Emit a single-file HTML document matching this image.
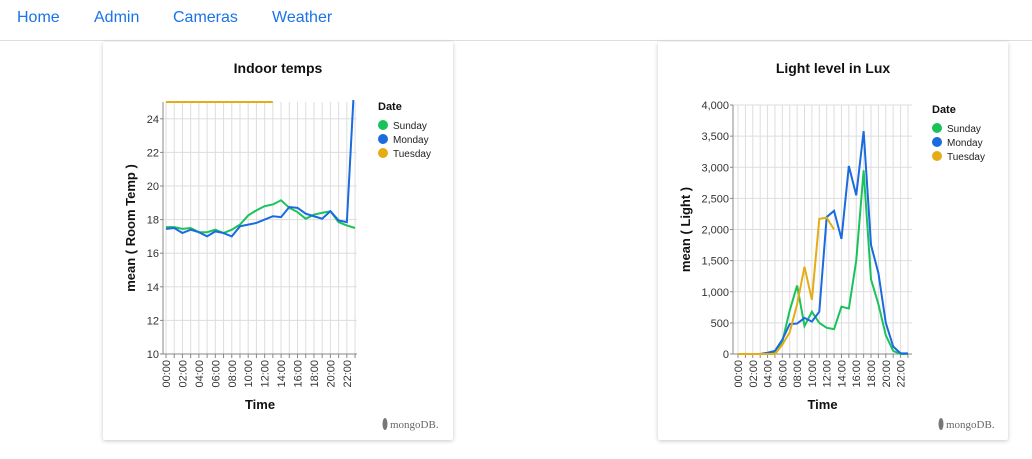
<!DOCTYPE html>
<html><head><meta charset="utf-8">
<style>
body{margin:0;width:1032px;height:459px;background:#fff;font-family:"Liberation Sans",sans-serif;overflow:hidden;position:relative}
.nav{position:absolute;left:0;top:0;width:1032px;height:40px;border-bottom:1px solid #ddd}
.nav a{position:absolute;top:9px;font-size:16px;color:#1a73e8;text-decoration:none}
.card{position:absolute;top:42px;width:350px;height:398px;background:#fff;box-shadow:0 1px 4px rgba(0,0,0,.22);border-radius:2px}
svg{position:absolute;left:0;top:0}
</style></head><body>
<div class="nav">
<a style="left:17px" href="#">Home</a>
<a style="left:94px" href="#">Admin</a>
<a style="left:173px" href="#">Cameras</a>
<a style="left:272px" href="#">Weather</a>
</div>
<div class="card" style="left:103px"></div>
<div class="card" style="left:658px"></div>
<svg id="chart" width="1032" height="459"></svg>
<script>
const hours = ["00:00","01:00","02:00","03:00","04:00","05:00","06:00","07:00","08:00","09:00","10:00","11:00","12:00","13:00","14:00","15:00","16:00","17:00","18:00","19:00","20:00","21:00","22:00","23:00"];
const tempSunday = [17.55,17.55,17.45,17.5,17.25,17.25,17.4,17.2,17.4,17.7,18.25,18.55,18.8,18.9,19.15,18.7,18.45,18.05,18.3,18.4,18.5,17.85,17.65,17.5];
const tempMonday = [17.45,17.5,17.2,17.4,17.25,17.0,17.3,17.2,17.0,17.6,17.7,17.8,18.0,18.2,18.15,18.75,18.7,18.35,18.2,18.05,18.5,17.95,17.85,27];
const tempTuesday = [25,25,25,25,25,25,25,25,25,25,25,25,25,25];
const tempTicks = [10,12,14,16,18,20,22,24];
const luxSunday = [0,0,0,0,0,20,200,700,1100,450,680,500,420,400,760,730,1500,2950,1200,800,300,50,0,0];
const luxMonday = [0,0,0,0,20,50,230,480,490,580,520,680,2200,2300,1850,3020,2550,3580,1750,1300,500,120,10,10];
const luxTuesday = [0,0,0,0,0,0,150,350,800,1400,870,2170,2190,2000];
const luxTicks = [0,500,1000,1500,2000,2500,3000,3500,4000];
const NS='http://www.w3.org/2000/svg';
const svg=document.getElementById('chart');
function mk(tag,attrs,parent,text){const e=document.createElementNS(NS,tag);for(const k in attrs)e.setAttribute(k,attrs[k]);if(text!==undefined)e.textContent=text;(parent||svg).appendChild(e);return e;}
const COLORS={Sunday:'#19c35a',Monday:'#1a6ae0',Tuesday:'#e6ac16'};
function chart(o){
  const g=mk('g',{});
  
  
  const x=i=>o.x0+i*o.step, y=v=>o.yb-(v-o.ymin)/(o.ymax-o.ymin)*(o.yb-o.yt);
  const cid='clip-'+o.name;
  const cp=mk('clipPath',{id:cid},g);mk('rect',{x:o.axX,y:o.yt-2,width:o.right-o.axX,height:o.yb-o.yt+4},cp);
  hours.forEach((h,i)=>{mk('line',{x1:x(i),x2:x(i),y1:o.yt,y2:o.yb,stroke:'#ddd','stroke-width':1},g);});
  o.ticks.forEach(t=>{mk('line',{x1:o.axX,x2:o.right,y1:y(t),y2:y(t),stroke:'#ddd'},g);
    const tl=mk('text',{x:o.axX-4,y:y(t)+4,'text-anchor':'end','font-size':11,fill:'#333'},g,o.fmt(t));
    
    
    mk('line',{x1:o.axX-3,x2:o.axX,y1:y(t),y2:y(t),stroke:'#888'},g);});
  mk('line',{x1:o.axX,x2:o.axX,y1:o.yt,y2:o.yb,stroke:'#888'},g);
  mk('line',{x1:o.axX,x2:o.right,y1:o.yb,y2:o.yb,stroke:'#888'},g);
  hours.forEach((h,i)=>{mk('line',{x1:x(i),x2:x(i),y1:o.yb,y2:o.yb+4,stroke:'#888'},g);
    if(i%2===0){const t=mk('text',{transform:`translate(${x(i)+4},${o.yb+6}) rotate(-90)`,'text-anchor':'end','font-size':11,fill:'#333'},g,h);
    
    }});
  const series={Sunday:o.sun,Monday:o.mon,Tuesday:o.tue};
  const lg=mk('g',{'clip-path':`url(#${cid})`},g);
  for(const k in series){const p=mk('polyline',{points:series[k].map((v,i)=>x(i)+','+y(v)).join(' '),fill:'none',stroke:COLORS[k],'stroke-width':2},lg);
    
    }
  const ti=mk('text',{x:o.cx,y:73,'text-anchor':'middle','font-size':14,'font-weight':'bold',fill:'#111'},g,o.title);
  
  
  const xt=mk('text',{x:(o.axX+o.right)/2,y:o.yb+55,'text-anchor':'middle','font-size':13,'font-weight':'bold',fill:'#111'},g,'Time');
  
  
  const yt=mk('text',{transform:`translate(${o.ytx},${(o.yt+o.yb)/2}) rotate(-90)`,'text-anchor':'middle','font-size':13,'font-weight':'bold',fill:'#111'},g,o.ylabel);
  
  
  const lgd=mk('g',{},g);
  
  
  mk('text',{x:o.lx,y:o.ly,'font-size':11,'font-weight':'bold',fill:'#111'},lgd,'Date');
  Object.keys(COLORS).forEach((k,i)=>{const e=mk('g',{},lgd);
    
    
    mk('circle',{cx:o.lx+5,cy:o.ly+15+i*14,r:5,fill:COLORS[k]},e);
    mk('text',{x:o.lx+15,y:o.ly+19+i*14,'font-size':10,fill:'#222'},e,k);});
  const m=mk('g',{},g);
  
  
  mk('ellipse',{cx:o.mx,cy:424,rx:2.5,ry:6,fill:'#777'},m);
  mk('text',{x:o.mx+5,y:428,'font-size':11,fill:'#666','font-family':'Liberation Serif, serif'},m,'mongoDB.');
}
chart({name:'indoor-temps-chart',title:'Indoor temps',cx:278,x0:166,step:8.22,axX:163,right:357,yt:102,yb:354,ymin:10,ymax:25,ticks:tempTicks,fmt:t=>String(t),sun:tempSunday,mon:tempMonday,tue:tempTuesday,ylabel:'mean ( Room Temp )',ytx:135,lx:378,ly:110,mx:385});
chart({name:'light-level-chart',title:'Light level in Lux',cx:833,x0:738,step:7.39,axX:733,right:912,yt:105,yb:354,ymin:0,ymax:4000,ticks:luxTicks,fmt:t=>t.toLocaleString('en-US'),sun:luxSunday,mon:luxMonday,tue:luxTuesday,ylabel:'mean ( Light )',ytx:690,lx:932,ly:113,mx:941});
</script>
</body></html>
